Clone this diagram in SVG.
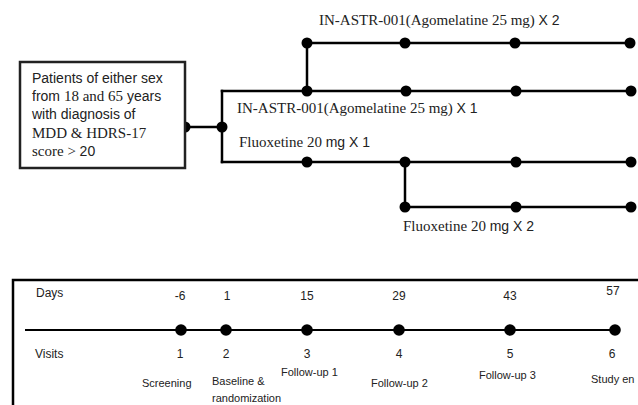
<svg xmlns="http://www.w3.org/2000/svg" width="638" height="405" viewBox="0 0 638 405">
<style>
.ln{stroke:#000;stroke-width:2.5;fill:none;stroke-linecap:square}
.tl{stroke:#000;stroke-width:2;fill:none}
.dot{fill:#000}
.sans{font-family:"Liberation Sans",Arial,sans-serif;fill:#222}
.serif{font-family:"Liberation Serif","Times New Roman",serif;fill:#222}
.box{fill:#fff;stroke:#222;stroke-width:2.5}
.lbl{font-size:15px}
.s14{font-size:14px}
.d{font-size:12px;text-anchor:middle}
.sub{font-size:11px}
</style>
<defs>
<circle id="d" r="5.5" class="dot"/>
<circle id="d2" r="5.8" class="dot"/>
</defs>
<rect width="638" height="405" fill="#fff"/>

<g id="connectors">
<path class="ln" d="M185,127 H222"/>
<path class="ln" d="M222,91 V162"/>
<path class="ln" d="M222,91 H631"/>
<path class="ln" d="M222,162 H631"/>
<path class="ln" d="M307,43 V91"/>
<path class="ln" d="M307,43 H630"/>
<path class="ln" d="M405,162 V207"/>
<path class="ln" d="M405,207 H631"/>
<use href="#d" x="185" y="127"/>
<use href="#d" x="222" y="127"/>
<use href="#d" x="307" y="43"/>
<use href="#d" x="405" y="43"/>
<use href="#d" x="515" y="43"/>
<use href="#d" x="630" y="43"/>
<use href="#d" x="307" y="91"/>
<use href="#d" x="406" y="91"/>
<use href="#d" x="516" y="91"/>
<use href="#d" x="631" y="91"/>
<use href="#d" x="307" y="162"/>
<use href="#d" x="405" y="162"/>
<use href="#d" x="516" y="162"/>
<use href="#d" x="631" y="162"/>
<use href="#d" x="405" y="207"/>
<use href="#d" x="516" y="207"/>
<use href="#d" x="631" y="207"/>
</g>

<g id="enrollment">
<rect class="box" x="20" y="62" width="165" height="106"/>
<text class="sans s14" x="32" y="83">Patients of either sex</text>
<text class="sans s14" x="32" y="101">from <tspan class="serif lbl">18 and 65</tspan> years</text>
<text class="sans s14" x="32" y="119">with diagnosis of</text>
<text class="serif lbl" x="32" y="138">MDD &amp; HDRS-17</text>
<text class="serif lbl" x="32" y="156">score &gt; <tspan class="sans s14">20</tspan></text>
</g>

<g id="arm-agomelatine-x2">
<text class="serif lbl" x="319" y="25">IN-ASTR-001(Agomelatine 25 mg) <tspan class="sans s14">X 2</tspan></text>
</g>
<g id="arm-agomelatine-x1">
<text class="serif lbl" x="237" y="113">IN-ASTR-001(Agomelatine 25 mg) <tspan class="sans s14">X 1</tspan></text>
</g>
<g id="arm-fluoxetine-x1">
<text class="serif lbl" x="239" y="147">Fluoxetine 20 <tspan class="sans s14">mg X 1</tspan></text>
</g>
<g id="arm-fluoxetine-x2">
<text class="serif lbl" x="403" y="231">Fluoxetine 20 <tspan class="sans s14">mg X 2</tspan></text>
</g>

<g id="schedule">
<path class="ln" d="M13,410 V280 H640"/>
<path class="tl" d="M25,330 H615"/>
<use href="#d2" x="181" y="330"/>
<use href="#d2" x="226" y="330"/>
<use href="#d2" x="307" y="330"/>
<use href="#d2" x="399" y="330"/>
<use href="#d2" x="510" y="330"/>
<use href="#d2" x="615" y="330"/>
<text class="sans" font-size="12" x="36" y="297">Days</text>
<text class="sans" font-size="12" x="35" y="358">Visits</text>
<text class="sans d" x="180" y="300">-6</text>
<text class="sans d" x="227" y="300">1</text>
<text class="sans d" x="307" y="300">15</text>
<text class="sans d" x="399" y="300">29</text>
<text class="sans d" x="510" y="300">43</text>
<text class="sans d" x="613" y="295">57</text>
<text class="sans d" x="180" y="358">1</text>
<text class="sans d" x="226" y="358">2</text>
<text class="sans d" x="307" y="358">3</text>
<text class="sans d" x="399" y="358">4</text>
<text class="sans d" x="510" y="358">5</text>
<text class="sans d" x="612" y="358">6</text>
<text class="sans sub" x="142" y="387">Screening</text>
<text class="sans sub" x="212" y="385">Baseline &amp;</text>
<text class="sans sub" x="212" y="402">randomization</text>
<text class="sans sub" x="281" y="376">Follow-up 1</text>
<text class="sans sub" x="371" y="387">Follow-up 2</text>
<text class="sans sub" x="479" y="379">Follow-up 3</text>
<text class="sans sub" x="591" y="383">Study en</text>
</g>
</svg>
